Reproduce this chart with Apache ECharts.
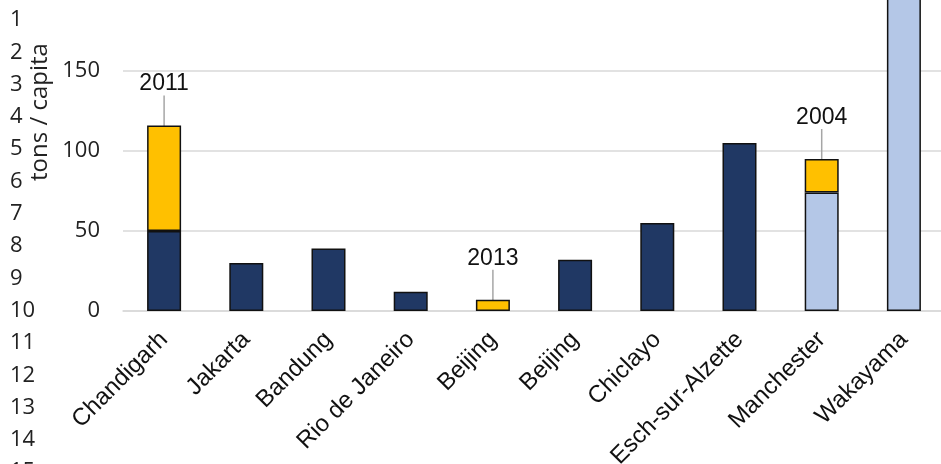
<!DOCTYPE html>
<html>
<head>
<meta charset="utf-8">
<script src="https://cdn.jsdelivr.net/npm/echarts@6/dist/echarts.min.js"></script>
<style>
  html, body { margin: 0; padding: 0; background: #fff; }
  #chart { width: 941px; height: 464px; }
</style>
</head>
<body>
<div id="chart"></div>
<script>
// Cities along the horizontal axis
const cities = ['Chandigarh', 'Jakarta', 'Bandung', 'Rio de Janeiro', 'Beijing',
  'Beijing', 'Chiclayo', 'Esch-sur-Alzette', 'Manchester', 'Wakayama'];

// Stacked components, tons / capita
const darkValues   = [50, 30, 39, 12, null, 32, 55, 105, null, null];
const lightValues  = [null, null, null, null, null, null, null, null, 74, 230];
const yellowValues = [66, null, null, null, 7, null, null, null, 21, null];

// Year annotations above the stacked tops
const yearLabels = ['2011', '', '', '', '2013', '', '', '', '2004', ''];

// Value axis ticks
const yTicks = [0, 50, 100, 150];

// Spreadsheet row numbers along the left edge
const rowNumbers = ['1', '2', '3', '4', '5', '6', '7', '8', '9', '10', '11', '12', '13', '14', '15'];

const chart = echarts.init(document.getElementById('chart'));

const border = { borderColor: '#111', borderWidth: 1.5 };

const rowGraphics = rowNumbers.map((t, i) => ({
  type: 'text',
  x: 10,
  y: 20 + i * 32.3,
  style: { text: t, fontFamily: 'Open Sans', fontSize: 22, fill: '#222', verticalAlign: 'middle' }
}));

chart.setOption({
  animation: false,
  backgroundColor: '#fff',
  grid: { left: 123, right: -4, top: -9, bottom: 153, containLabel: false, outerBoundsMode: 'none' },
  xAxis: {
    type: 'category',
    data: cities,
    boundaryGap: true,
    axisTick: { show: false },
    axisLine: { show: true, lineStyle: { color: '#d9d9d9', width: 1.5 } },
    axisLabel: {
      rotate: 45,
      interval: 0,
      margin: 25,
      fontFamily: 'Liberation Sans',
      fontSize: 24,
      color: '#111'
    }
  },
  yAxis: {
    type: 'value',
    min: 0,
    max: 200,
    interval: 50,
    axisLine: { show: false },
    axisTick: { show: false },
    splitLine: { lineStyle: { color: '#d9d9d9', width: 1.5 } },
    axisLabel: {
      margin: 23,
      fontFamily: 'Open Sans',
      fontSize: 22,
      color: '#222',
      formatter: v => (yTicks.indexOf(v) >= 0 ? String(v) : '')
    }
  },
  graphic: [
    ...rowGraphics,
    {
      type: 'text',
      x: 40,
      y: 112,
      rotation: Math.PI / 2,
      style: {
        text: 'tons / capita',
        fontFamily: 'Open Sans',
        fontSize: 24,
        fill: '#222',
        align: 'center',
        verticalAlign: 'middle'
      }
    }
  ],
  series: [
    {
      name: 'dark',
      type: 'bar',
      stack: 'total',
      barWidth: 34,
      data: darkValues,
      itemStyle: Object.assign({ color: '#203864' }, border)
    },
    {
      name: 'light',
      type: 'bar',
      stack: 'total',
      barWidth: 34,
      data: lightValues,
      itemStyle: Object.assign({ color: '#b4c7e7' }, border)
    },
    {
      name: 'yellow',
      type: 'bar',
      stack: 'total',
      barWidth: 34,
      data: yellowValues,
      itemStyle: Object.assign({ color: '#ffc000' }, border),
      label: {
        show: true,
        position: 'top',
        distance: 0,
        padding: [0, 0, 7, 0],
        fontFamily: 'Liberation Sans',
        fontSize: 23,
        color: '#111',
        formatter: p => yearLabels[p.dataIndex]
      },
      labelLayout: { dy: -23 },
      labelLine: { show: true, lineStyle: { color: '#a6a6a6', width: 1.5 } }
    }
  ]
});
</script>
</body>
</html>
